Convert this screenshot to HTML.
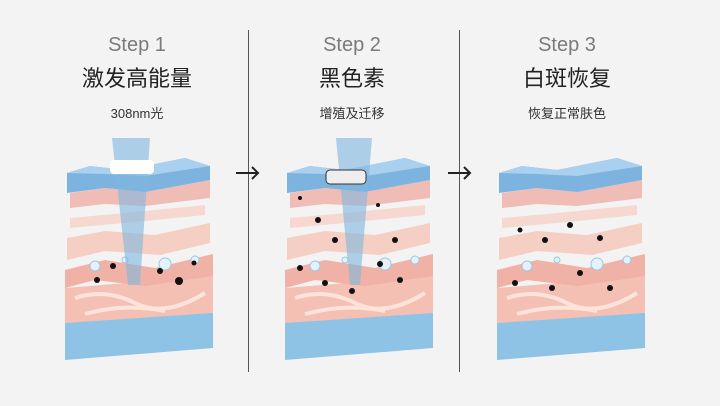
<!DOCTYPE html>
<html><head><meta charset="utf-8"><style>
html,body{margin:0;padding:0}
body{width:720px;height:406px;background:#f3f3f3;position:relative;overflow:hidden;font-family:"Liberation Sans","Noto Sans CJK SC",sans-serif}
.col{position:absolute;top:30px;width:200px;text-align:center}
.s{font-size:20px;color:#7a7a7a;line-height:30px}
.t{font-size:22px;color:#222;line-height:34px;margin-top:2px}
.d{font-size:13px;color:#333;line-height:20px;margin-top:8px}
.v{position:absolute;top:30px;width:1px;height:342px;background:#555}
</style></head><body>
<div class="col" style="left:37px"><div class="s">Step 1</div><div class="t">激发高能量</div><div class="d">308nm光</div></div>
<div class="col" style="left:252px"><div class="s">Step 2</div><div class="t">黑色素</div><div class="d">增殖及迁移</div></div>
<div class="col" style="left:467px"><div class="s">Step 3</div><div class="t">白斑恢复</div><div class="d">恢复正常肤色</div></div>
<div class="v" style="left:248px"></div><div class="v" style="left:459px"></div>
<svg width="720" height="406" style="position:absolute;left:0;top:0">
<defs>
<g id="skin">
<polygon points="0,165 30,158 80,166 148,155 148,200 0,212" fill="#8ec3e6"/>
<polygon points="0,140 148,128 148,165 0,175" fill="#f4c0b4"/>
<polygon points="0,122 40,112 90,120 148,106 148,128 80,138 30,132 0,140" fill="#f0b1a6"/>
<path d="M10,150 Q40,140 70,155 T140,145 M20,166 Q60,155 100,163" stroke="#fde3da" stroke-width="4" fill="none"/>
<polygon points="2,90 40,83 90,87 145,75 145,95 95,107 40,103 2,112" fill="#f5cfc3"/>
<polygon points="5,70 60,65 140,57 140,67 60,75 5,80" fill="#f7d8d0"/>
<polygon points="5,45 40,40 80,44 145,32 145,50 80,58 40,56 5,60" fill="#efbdb6"/>
<polygon points="2,25 25,18 60,22 120,10 145,18 145,32 80,44 40,40 2,45" fill="#7db4df"/>
<polygon points="2,25 25,18 60,22 120,10 145,18 80,28 40,26" fill="#a9d1ef"/>
<circle cx="30" cy="118" r="5" fill="#e6f2fb" stroke="#9cc6e5"/><circle cx="100" cy="116" r="6" fill="#e6f2fb" stroke="#9cc6e5"/><circle cx="60" cy="112" r="3" fill="#e6f2fb" stroke="#9cc6e5"/><circle cx="130" cy="112" r="4" fill="#e6f2fb" stroke="#9cc6e5"/>
</g>
</defs>
<use href="#skin" x="65" y="148"/><use href="#skin" x="285" y="148"/><use href="#skin" x="497" y="148"/>
<polygon points="112,138 150,138 140,285 128,285" fill="#7fb6e0" opacity=".6"/>
<rect x="110" y="160" width="44" height="14" rx="4" fill="#fff"/>
<polygon points="336,138 372,138 360,285 350,285" fill="#7fb6e0" opacity=".6"/>
<rect x="326" y="170" width="40" height="14" rx="4" fill="#eee" stroke="#333"/>
<g fill="#111">
<circle cx="97" cy="280" r="3"/><circle cx="113" cy="266" r="3"/><circle cx="160" cy="271" r="3"/><circle cx="179" cy="281" r="4"/><circle cx="194" cy="263" r="2.5"/>
<circle cx="300" cy="198" r="2"/><circle cx="318" cy="220" r="3"/><circle cx="335" cy="240" r="3"/><circle cx="378" cy="205" r="2"/><circle cx="300" cy="268" r="3"/><circle cx="325" cy="283" r="3"/><circle cx="352" cy="291" r="3"/><circle cx="380" cy="264" r="3"/><circle cx="400" cy="280" r="3"/><circle cx="395" cy="240" r="3"/>
<circle cx="520" cy="230" r="2.5"/><circle cx="545" cy="240" r="3"/><circle cx="570" cy="225" r="3"/><circle cx="600" cy="238" r="3"/><circle cx="515" cy="283" r="3"/><circle cx="552" cy="288" r="3"/><circle cx="580" cy="273" r="3"/><circle cx="610" cy="288" r="3"/>
</g>
<g stroke="#222" stroke-width="2" fill="none"><path d="M236,173h22M252,167l6,6-6,6"/><path d="M448,173h22M464,167l6,6-6,6"/></g>
</svg>
</body></html>
